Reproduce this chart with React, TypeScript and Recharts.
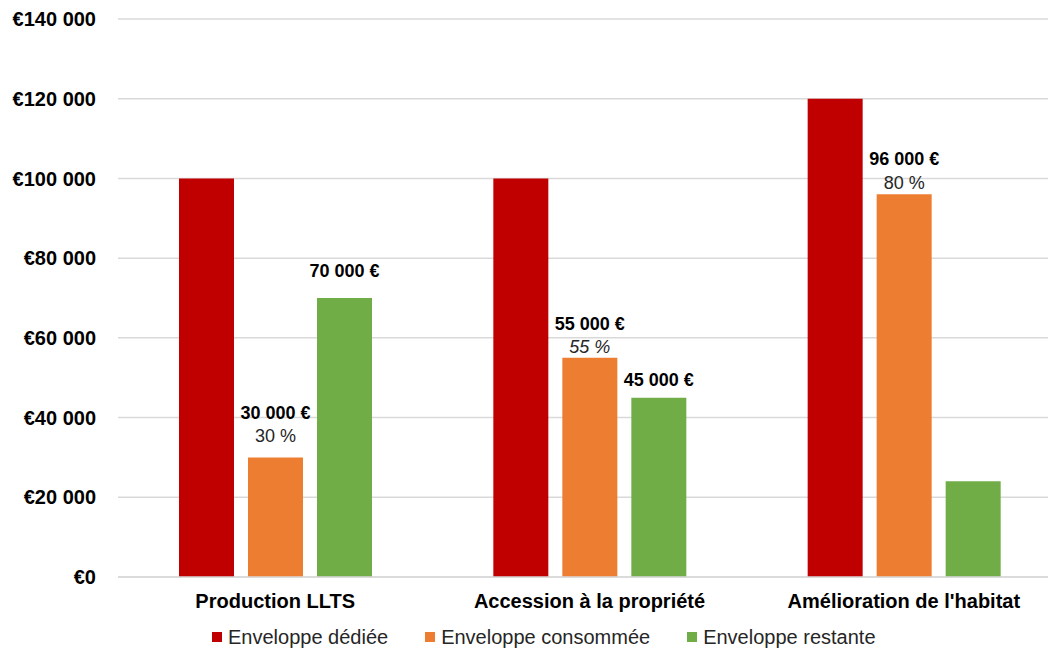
import React from 'react';
import { BarChart, Bar, XAxis, YAxis, CartesianGrid, Legend, LabelList } from 'recharts';

const categories = ['Production LLTS', 'Accession à la propriété', "Amélioration de l'habitat"];
const dediee = [100000, 100000, 120000];
const consommee = [30000, 55000, 96000];
const restante = [70000, 45000, 24000];
const consommeeLabels = ['30 000 €', '55 000 €', '96 000 €'];
const consommeePct = ['30 %', '55 %', '80 %'];
const restanteLabels = ['70 000 €', '45 000 €', ''];
const yTicks = [0, 20000, 40000, 60000, 80000, 100000, 120000, 140000];
const seriesNames = ['Enveloppe dédiée', 'Enveloppe consommée', 'Enveloppe restante'];

// label styling (lift above bar top, px)
const consAmountLift = [38, 28, 29];
const consPctLift = [15, 5, 5];
const consPctItalic = [false, true, false];
const restLift = [21, 12, 12];

const COLORS = ['#C00000', '#ED7D31', '#70AD47'];
const FONT = "'Liberation Sans', Arial, sans-serif";

const data = categories.map((c, i) => ({
  name: c,
  dediee: dediee[i],
  consommee: consommee[i],
  restante: restante[i],
}));

const fmtY = (v: number) => {
  if (v === 0) return '€0';
  const s = String(v).replace(/\B(?=(\d{3})+(?!\d))/g, ' ');
  return '€' + s;
};

const ConsLabel = (props: any) => {
  const { x, y, width, index } = props;
  const cx = x + width / 2;
  return (
    <g>
      <text x={cx} y={y - consAmountLift[index]} textAnchor="middle" fontSize={18} fontWeight="bold" fill="#000" fontFamily={FONT}>
        {consommeeLabels[index]}
      </text>
      <text x={cx} y={y - consPctLift[index]} textAnchor="middle" fontSize={18} fontStyle={consPctItalic[index] ? 'italic' : 'normal'} fill="#262626" fontFamily={FONT}>
        {consommeePct[index]}
      </text>
    </g>
  );
};

const RestLabel = (props: any) => {
  const { x, y, width, index } = props;
  if (!restanteLabels[index]) return null;
  return (
    <text x={x + width / 2} y={y - restLift[index]} textAnchor="middle" fontSize={18} fontWeight="bold" fill="#000" fontFamily={FONT}>
      {restanteLabels[index]}
    </text>
  );
};

const LegendContent = () => (
  <div style={{ position: 'relative', width: 1070, height: 40, fontFamily: FONT, fontSize: 20, color: '#262626' }}>
    <div style={{ position: 'absolute', left: 212, top: 17, display: 'flex', alignItems: 'center', whiteSpace: 'nowrap' }}>
      {seriesNames.map((n, i) => (
        <div key={n} style={{ display: 'flex', alignItems: 'center', marginRight: 37 }}>
          <span style={{ display: 'inline-block', width: 10, height: 10, background: COLORS[i], marginRight: 6 }} />
          <span style={{ lineHeight: '20px' }}>{n}</span>
        </div>
      ))}
    </div>
  </div>
);

export default function App() {
  return (
    <div style={{ position: 'absolute', left: 0, top: 0, width: 1048, height: 650, overflow: 'hidden', background: '#fff', fontFamily: FONT }}>
      <BarChart
        width={1070}
        height={650}
        data={data}
        margin={{ top: 19, right: 9, bottom: 0, left: 0 }}
        barSize={55}
        barGap={14}
      >
        <CartesianGrid horizontal={true} vertical={false} stroke="#D9D9D9" strokeWidth={1.5} />
        <XAxis
          dataKey="name"
          height={33}
          tickSize={0}
          tickMargin={17}
          tickLine={false}
          axisLine={{ stroke: '#D9D9D9', strokeWidth: 1.5 }}
          tick={{ fontSize: 20, fontWeight: 'bold', fill: '#000', fontFamily: FONT }}
          interval={0}
        />
        <YAxis
          width={118}
          domain={[0, 140000]}
          ticks={yTicks}
          tickFormatter={fmtY}
          tickSize={0}
          tickMargin={22}
          tickLine={false}
          axisLine={false}
          tick={{ fontSize: 20, fontWeight: 'bold', fill: '#000', fontFamily: FONT }}
          interval={0}
        />
        <Legend
          verticalAlign="bottom"
          height={40}
          wrapperStyle={{ left: 0, bottom: 0, width: 1070, height: 40 }}
          content={<LegendContent />}
        />
        <Bar dataKey="dediee" name={seriesNames[0]} fill={COLORS[0]} isAnimationActive={false} />
        <Bar dataKey="consommee" name={seriesNames[1]} fill={COLORS[1]} isAnimationActive={false}>
          <LabelList dataKey="consommee" content={<ConsLabel />} />
        </Bar>
        <Bar dataKey="restante" name={seriesNames[2]} fill={COLORS[2]} isAnimationActive={false}>
          <LabelList dataKey="restante" content={<RestLabel />} />
        </Bar>
      </BarChart>
    </div>
  );
}
